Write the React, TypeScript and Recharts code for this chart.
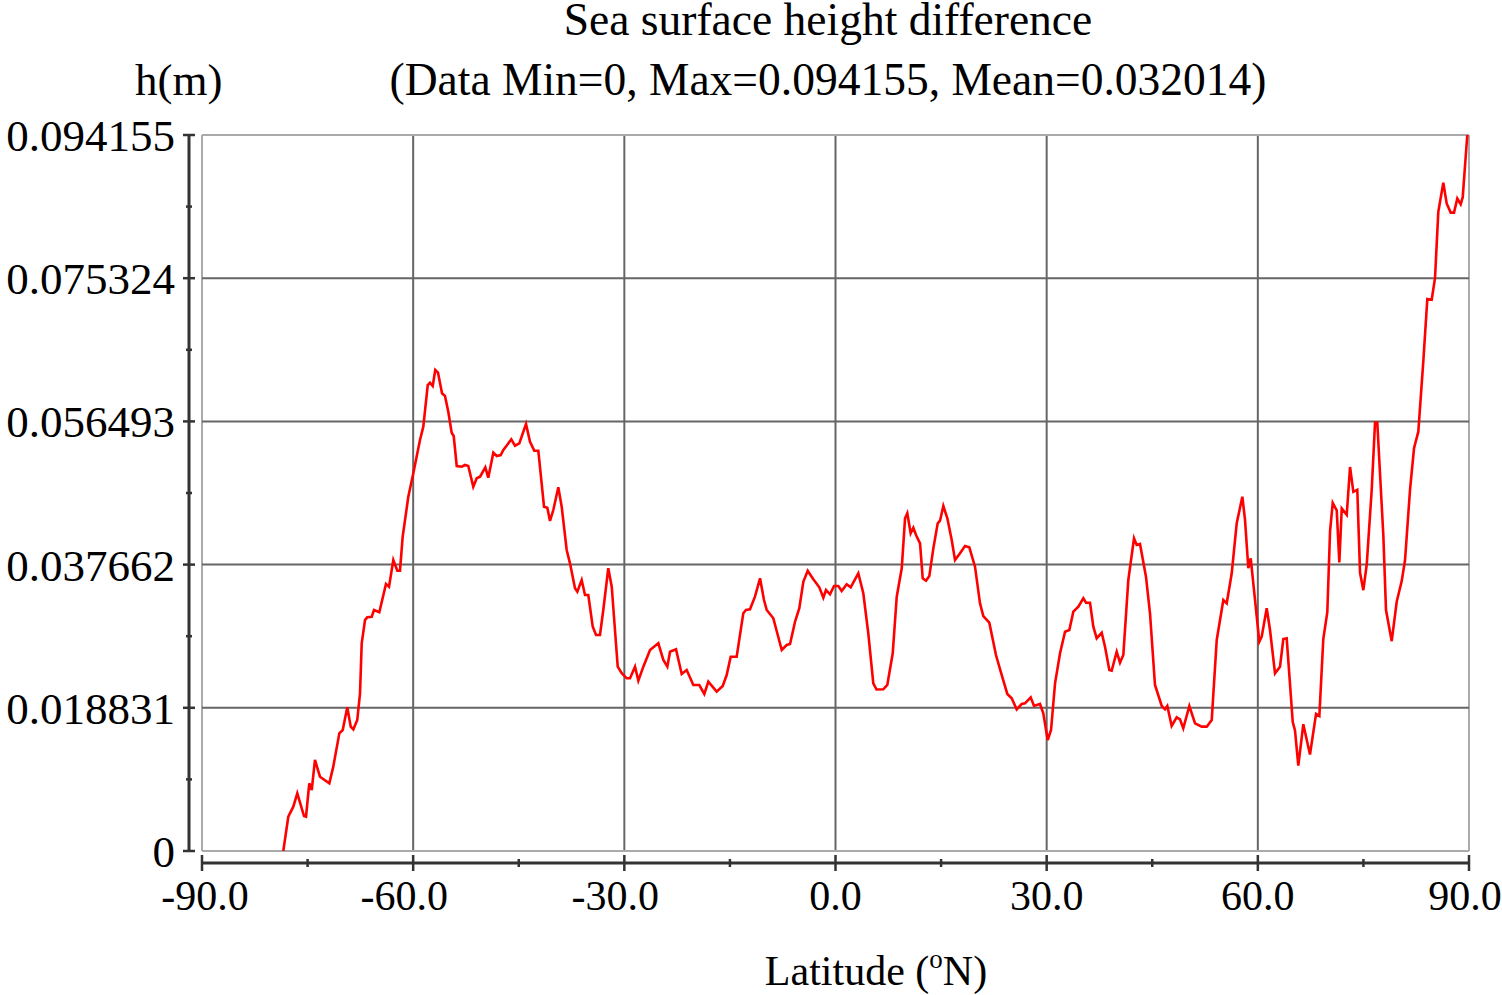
import React from "react";
import { LineChart, Line, XAxis, YAxis, ReferenceLine } from "recharts";

// latitude (°N) of each sample
const LAT = [
  -78.45, -77.74, -77.03, -76.46, -75.51, -75.22, -74.76, -74.41, -73.95, -73.24,
  -71.91, -71.35, -70.49, -70.01, -69.36, -68.87, -68.5, -67.94, -67.55, -67.31,
  -66.84, -66.52, -65.89, -65.56, -64.81, -63.86, -63.43, -62.82, -62.25, -61.87,
  -61.49, -60.69, -59.98, -59.03, -58.56, -57.93, -57.61, -57.22, -56.86, -56.47,
  -55.9, -55.48, -55.01, -54.53, -54.24, -53.81, -53.1, -52.64, -52.17, -51.46,
  -50.97, -50.5, -49.75, -49.33, -48.61, -48.13, -47.56, -47.19, -46.57, -46.06,
  -45.53, -44.92, -43.97, -43.4, -42.79, -42.22, -41.41, -40.94, -40.56, -40.09,
  -39.38, -38.9, -38.19, -37.72, -37.01, -36.68, -36.06, -35.59, -35.12, -34.49,
  -34.02, -33.46, -32.99, -32.28, -31.79, -31.33, -30.94, -30.37, -29.66, -29.19,
  -28.48, -28.01, -27.3, -26.35, -25.17, -24.46, -23.89, -23.51, -22.66, -21.85,
  -21.14, -20.2, -19.35, -18.64, -18.07, -16.88, -16.02, -15.46, -14.89, -14.04,
  -13.1, -12.71, -12.15, -11.44, -10.72, -10.16, -9.77, -8.83, -8.27, -7.64,
  -6.93, -6.46, -5.75, -5.14, -4.57, -3.95, -3.15, -2.3, -1.73, -1.35,
  -0.78, -0.21, 0.4, 0.88, 1.59, 2.16, 3.24, 3.95, 4.66, 5.37,
  5.83, 6.79, 7.36, 8.13, 8.7, 9.41, 9.88, 10.2, 10.68, 11.06,
  11.44, 12.01, 12.39, 12.86, 13.33, 13.9, 14.52, 14.85, 15.32, 15.89,
  16.51, 16.98, 17.69, 18.4, 19.01, 19.82, 20.53, 21.0, 21.85, 22.8,
  23.47, 24.41, 25.03, 25.74, 26.45, 26.92, 27.73, 28.2, 29.05, 29.52,
  30.15, 30.62, 31.19, 31.9, 32.61, 33.22, 33.79, 34.5, 35.21, 35.59,
  36.16, 36.63, 37.11, 37.82, 38.29, 38.9, 39.24, 39.95, 40.42, 40.89,
  41.6, 42.41, 42.79, 43.26, 44.11, 44.68, 45.39, 46.35, 46.81, 47.14,
  47.76, 48.47, 48.94, 49.41, 50.27, 51.08, 52.03, 52.74, 53.45, 54.16,
  55.1, 55.58, 56.29, 57.0, 57.8, 58.18, 58.65, 58.99, 59.6, 60.21,
  60.55, 61.26, 61.73, 62.44, 63.15, 63.62, 64.1, 64.96, 65.28, 65.75,
  66.46, 67.41, 68.27, 68.74, 69.3, 69.87, 70.26, 70.64, 71.21, 71.58,
  71.92, 72.63, 73.1, 73.57, 74.13, 74.52, 74.99, 75.47, 76.18, 76.65,
  76.97, 77.83, 78.21, 79.02, 79.73, 80.44, 80.91, 81.62, 82.19, 82.8,
  83.51, 84.08, 84.7, 85.17, 85.64, 86.35, 86.83, 87.4, 87.87, 88.34,
  88.82, 89.11, 89.43, 89.76,
];

// sea surface height difference h (m)
const SSH = [
  0, 0.00451, 0.00583, 0.00759, 0.0046, 0.00451, 0.0089, 0.00802, 0.01197, 0.00977,
  0.0089, 0.01109, 0.01548, 0.01591, 0.0189, 0.01635, 0.016, 0.01723, 0.02074, 0.02731,
  0.03038, 0.03073, 0.03081, 0.03169, 0.03139, 0.03511, 0.03476, 0.03827, 0.03686, 0.03686,
  0.04133, 0.04659, 0.04967, 0.05405, 0.0558, 0.06128, 0.06158, 0.06115, 0.06325, 0.0629,
  0.06019, 0.05983, 0.05777, 0.05501, 0.05457, 0.05063, 0.05054, 0.05076, 0.05063, 0.0479,
  0.04901, 0.04922, 0.05046, 0.04909, 0.05238, 0.05194, 0.05207, 0.05273, 0.05348, 0.05414,
  0.0533, 0.05361, 0.05615, 0.05382, 0.05264, 0.05264, 0.04528, 0.04514, 0.0434, 0.04484,
  0.04783, 0.04528, 0.03958, 0.03783, 0.03455, 0.0341, 0.03564, 0.03366, 0.03366, 0.0295,
  0.0284, 0.0284, 0.03169, 0.03718, 0.03476, 0.02906, 0.02424, 0.02337, 0.02271, 0.02271,
  0.02424, 0.02239, 0.02424, 0.02643, 0.02731, 0.02512, 0.02424, 0.02621, 0.02652, 0.02328,
  0.0238, 0.02183, 0.02183, 0.02065, 0.02226, 0.02095, 0.0217, 0.02314, 0.02555, 0.02555,
  0.03126, 0.03169, 0.03178, 0.03344, 0.03586, 0.03301, 0.03169, 0.0306, 0.02863, 0.02643,
  0.02709, 0.02722, 0.03015, 0.03192, 0.03541, 0.03686, 0.03573, 0.03468, 0.03331, 0.03432,
  0.03376, 0.03485, 0.03485, 0.03419, 0.03507, 0.03468, 0.03652, 0.03389, 0.02863, 0.02205,
  0.02124, 0.02126, 0.02183, 0.026, 0.03344, 0.03718, 0.04375, 0.04441, 0.04178, 0.04251,
  0.04155, 0.04046, 0.03586, 0.03554, 0.03616, 0.0398, 0.04309, 0.04343, 0.04537, 0.04375,
  0.0409, 0.03827, 0.03915, 0.04011, 0.03994, 0.03739, 0.03257, 0.0309, 0.03002, 0.02577,
  0.02358, 0.02065, 0.02008, 0.01863, 0.01933, 0.01942, 0.02021, 0.01907, 0.01933, 0.01811,
  0.0146, 0.01591, 0.02205, 0.026, 0.02884, 0.02906, 0.03147, 0.03213, 0.03323, 0.03265,
  0.03265, 0.0295, 0.02797, 0.02871, 0.02687, 0.0238, 0.02371, 0.02621, 0.02476, 0.02577,
  0.03564, 0.04112, 0.04024, 0.04037, 0.03607, 0.03126, 0.02183, 0.01907, 0.01863, 0.01907,
  0.01644, 0.01758, 0.01732, 0.01614, 0.01907, 0.01679, 0.01635, 0.01635, 0.01723, 0.02775,
  0.03301, 0.03257, 0.03652, 0.04309, 0.04659, 0.04353, 0.03718, 0.03849, 0.03301, 0.02752,
  0.02818, 0.03192, 0.02906, 0.02337, 0.02424, 0.02787, 0.02797, 0.01695, 0.01586, 0.01122,
  0.01667, 0.01269, 0.01804, 0.01777, 0.02787, 0.0314, 0.04204, 0.04576, 0.04478, 0.03795,
  0.04505, 0.04422, 0.0505, 0.04723, 0.0475, 0.03658, 0.0343, 0.03767, 0.0475, 0.05635,
  0.05635, 0.0415, 0.03168, 0.02759, 0.03277, 0.03549, 0.03823, 0.0475, 0.05296, 0.05514,
  0.06442, 0.0726, 0.0725, 0.07532, 0.08405, 0.08788, 0.08515, 0.08395, 0.08395, 0.0858,
  0.08504, 0.08598, 0.09006, 0.094155,
];

const X_TICKS = [-90, -75, -60, -45, -30, -15, 0, 15, 30, 45, 60, 75, 90];
const X_MAJOR = [-90, -60, -30, 0, 30, 60, 90];
const Y_MAJOR = [0, 0.018831, 0.037662, 0.056493, 0.075324, 0.094155];
const Y_MINOR = [0.0094155, 0.0282465, 0.0470775, 0.0659085, 0.0847395];

const data = LAT.map((lat, i) => ({ lat, h: SSH[i] }));

const FONT = "'Liberation Serif', 'Times New Roman', serif";
const AXIS = "#333";

// small nudges so the labels sit where the original's do
const xLabelShift = (v: number) => (v === -90 ? 3 : v === 90 ? -4 : v < 0 ? -9 : 0);

const XTick = (props: any) => {
  const { x, y, payload } = props;
  const major = X_MAJOR.includes(payload.value);
  return (
    <g>
      <line x1={x} x2={x} y1={y + (major ? 4 : 8)} y2={y + (major ? 20 : 16)} stroke={AXIS} strokeWidth={2.5} />
      {major && (
        <text x={x + xLabelShift(payload.value)} y={y + 59} textAnchor="middle" fontFamily={FONT} fontSize={42} fill="#000">
          {payload.value.toFixed(1)}
        </text>
      )}
    </g>
  );
};

const YTick = (props: any) => {
  const { x, y, payload } = props;
  const major = Y_MAJOR.includes(payload.value);
  return (
    <g>
      <line x1={x - (major ? 19 : 16)} x2={x - (major ? 7 : 10)} y1={y} y2={y} stroke={AXIS} strokeWidth={2.5} />
      {major && (
        <text x={x - 27} y={y + 16} textAnchor="end" fontFamily={FONT} fontSize={45} fill="#000">
          {String(payload.value)}
        </text>
      )}
    </g>
  );
};

const titleStyle: React.CSSProperties = {
  position: "absolute",
  left: 0,
  width: 1502,
  textAlign: "center",
  fontSize: 45.5,
  paddingLeft: 154,
  boxSizing: "border-box",
  whiteSpace: "nowrap",
};

export default function App() {
  return (
    <div style={{ position: "absolute", left: 0, top: 0, width: 1502, height: 995, background: "#fff", fontFamily: FONT, overflow: "hidden" }}>
      <div style={{ ...titleStyle, top: 5, lineHeight: "30px" }}>Sea surface height difference</div>
      <div style={{ ...titleStyle, top: 56, lineHeight: "48px" }}>(Data Min=0, Max=0.094155, Mean=0.032014)</div>
      <div style={{ position: "absolute", left: 135, top: 56, fontSize: 45, lineHeight: "48px" }}>h(m)</div>
      <div style={{ position: "absolute", left: 0, width: 1502, top: 953, textAlign: "center", fontSize: 42, paddingLeft: 250, boxSizing: "border-box", lineHeight: "36px", whiteSpace: "nowrap" }}>
        Latitude (<span style={{ fontSize: 27, position: "relative", top: -17 }}>o</span>N)
      </div>
      <LineChart width={1502} height={995} data={data} margin={{ top: 135, right: 33, bottom: 0, left: 0 }} style={{ position: "absolute", left: 0, top: 0 }}>
        <XAxis dataKey="lat" type="number" domain={[-90, 90]} ticks={X_TICKS} interval={0} height={144}
          axisLine={false} tickLine={false} tickSize={0} tickMargin={0} tick={<XTick />} allowDataOverflow />
        <YAxis type="number" domain={[0, 0.094155]} ticks={[...Y_MAJOR, ...Y_MINOR]} interval={0} width={202}
          axisLine={false} tickLine={false} tickSize={0} tickMargin={0} tick={<YTick />} allowDataOverflow />
        {X_MAJOR.map((v) => (
          <ReferenceLine key={"gx" + v} x={v} stroke={v === -90 || v === 90 ? "#aaa" : "#666"} strokeWidth={2} />
        ))}
        {Y_MAJOR.map((v) => (
          <ReferenceLine key={"gy" + v} y={v} stroke={v === 0 || v === 0.094155 ? "#aaa" : "#666"} strokeWidth={2} />
        ))}
        <ReferenceLine y={0} stroke={AXIS} strokeWidth={3}
          shape={(p: any) => <line x1={p.x1} x2={p.x2} y1={p.y1 + 12} y2={p.y2 + 12} stroke={AXIS} strokeWidth={3} />} />
        <ReferenceLine x={-90} stroke={AXIS} strokeWidth={3}
          shape={(p: any) => <line x1={p.x1 - 13} x2={p.x2 - 13} y1={p.y1} y2={p.y2} stroke={AXIS} strokeWidth={3} />} />
        <Line type="linear" dataKey="h" stroke="#ff0000" strokeWidth={2.6} dot={false} isAnimationActive={false} />
      </LineChart>
    </div>
  );
}
